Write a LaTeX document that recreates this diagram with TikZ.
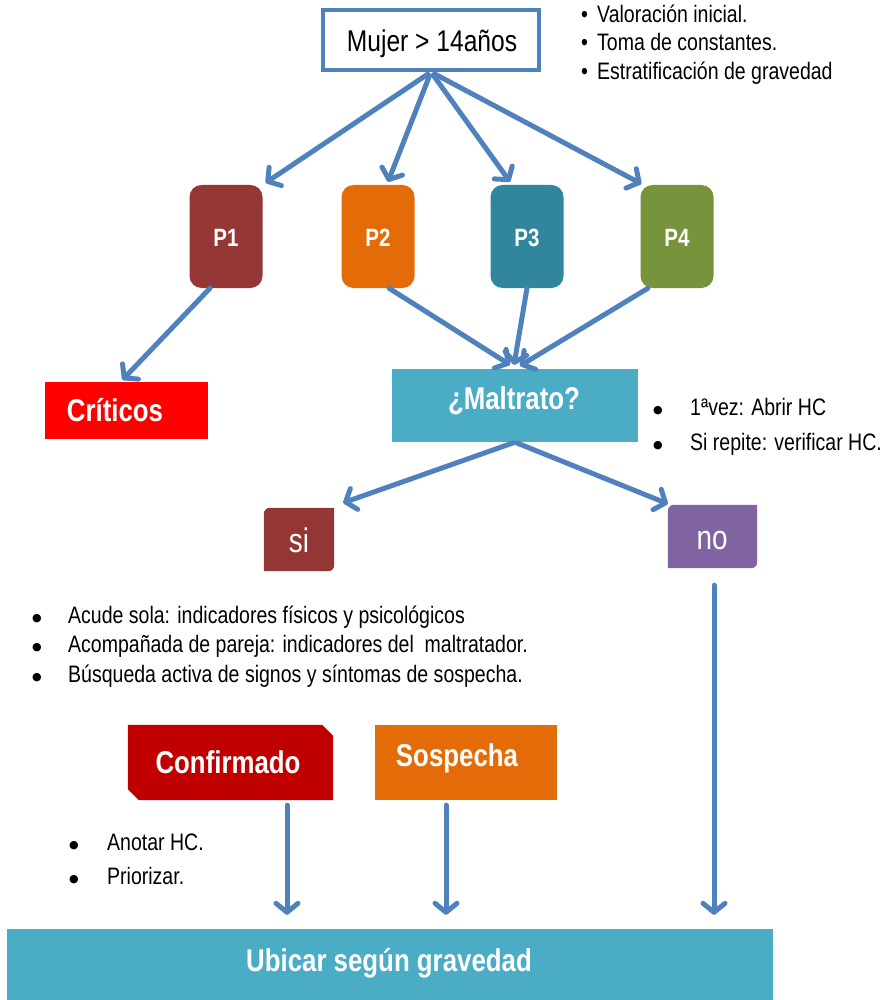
\documentclass[tikz,border=0pt]{standalone}
\usepackage{fontspec}
\setmainfont{Liberation Sans}[FakeStretch=0.82]
\newfontfamily\dejavu{DejaVu Sans}
\usetikzlibrary{arrows.meta,calc}
\definecolor{arrowblue}{HTML}{4F81BD}
\definecolor{pone}{HTML}{953735}
\definecolor{ptwo}{HTML}{E36C09}
\definecolor{pthree}{HTML}{31859C}
\definecolor{pfour}{HTML}{77933C}
\definecolor{critc}{HTML}{FF0000}
\definecolor{tealc}{HTML}{4BACC6}
\definecolor{sic}{HTML}{943634}
\definecolor{noc}{HTML}{8064A2}
\definecolor{confc}{HTML}{C00000}
\newcommand\bigbul{\raisebox{2pt}{\dejavu\fontsize{11}{11}\selectfont ●}}
\begin{document}
\begin{tikzpicture}[x=1pt,y=-1pt,
  arr/.style={draw=arrowblue, line width=5pt, line cap=round, -{Straight Barb[length=9pt,width=22pt,round]}},
  pbox/.style={rounded corners=12pt, minimum width=73pt, minimum height=103pt, inner sep=0pt},
  flat/.style={inner sep=0pt},
  wlab/.style={text=white, font=\fontsize{31.5}{36}\selectfont\bfseries, inner sep=0pt, anchor=base},
  plab/.style={text=white, font=\fontsize{25}{30}\selectfont\bfseries, inner sep=0pt, anchor=base},
  blist/.style={anchor=base west, inner sep=0pt, font=\fontsize{23.8}{28}\selectfont},
]
\useasboundingbox (0,0) rectangle (891,1000);

% top box
\node[draw=arrowblue, line width=4pt, fill=white, minimum width=216pt, minimum height=60pt, inner sep=0pt] (top) at (431,40) {};
\node[inner sep=0pt, anchor=base, font=\fontsize{30}{34}\selectfont] (toplab) at (432,52) {Mujer > 14años};
\node[blist] (tb1) at (581,23) {\makebox[16pt][l]{\textbullet}Valoración inicial.};
\node[blist] (tb2) at (581,51) {\makebox[16pt][l]{\textbullet}Toma de constantes.};
\node[blist] (tb3) at (581,80) {\makebox[16pt][l]{\textbullet}Estratificación de gravedad};

% P boxes
\node[pbox, fill=pone] (p1) at (226,236.5) {};
\node[pbox, fill=ptwo] (p2) at (378,236.5) {};
\node[pbox, fill=pthree] (p3) at (527,236.5) {};
\node[pbox, fill=pfour] (p4) at (677,236.5) {};
\node[plab] (p1l) at (226,247) {P1};
\node[plab] (p2l) at (378,247) {P2};
\node[plab] (p3l) at (527,247) {P3};
\node[plab] (p4l) at (677,247) {P4};

% Criticos and Maltrato
\node[flat, fill=critc, minimum width=163pt, minimum height=57pt] (crit) at (126.5,410.5) {};
\node[wlab] (critl) at (115,421) {Críticos};
\node[flat, fill=tealc, minimum width=246pt, minimum height=73pt] (malt) at (515,405.5) {};
\node[wlab] (maltl) at (514,409) {¿Maltrato?};
\node[blist] (mb1) at (653,415) {\makebox[37pt][l]{\bigbul}1ªvez: Abrir HC};
\node[blist] (mb2) at (653,450) {\makebox[37pt][l]{\bigbul}Si repite: verificar HC.};

% si / no
\node[flat, minimum width=70pt, minimum height=63pt] (si) at (299,539.5) {};
\fill[sic] (si.south west) -- ([yshift=-6pt]si.north west) arc[start angle=180,end angle=90,radius=6pt] -- (si.north east) -- ([yshift=6pt]si.south east) arc[start angle=0,end angle=-90,radius=6pt] -- cycle;
\node[flat, minimum width=89pt, minimum height=63pt] (no) at (712.5,536.5) {};
\fill[noc] (no.south west) -- ([yshift=-6pt]no.north west) arc[start angle=180,end angle=90,radius=6pt] -- (no.north east) -- ([yshift=6pt]no.south east) arc[start angle=0,end angle=-90,radius=6pt] -- cycle;
\node[text=white, inner sep=0pt, anchor=base, font=\fontsize{34}{40}\selectfont] (sil) at (299,552) {si};
\node[text=white, inner sep=0pt, anchor=base, font=\fontsize{34}{40}\selectfont] (nol) at (712,549) {no};

% list
\node[blist] (l1) at (32,623) {\makebox[36pt][l]{\bigbul}Acude sola: indicadores físicos y psicológicos};
\node[blist] (l2) at (32,652) {\makebox[36pt][l]{\bigbul}Acompañada de pareja: indicadores del\ \ maltratador.};
\node[blist] (l3) at (32,682) {\makebox[36pt][l]{\bigbul}Búsqueda activa de signos y síntomas de sospecha.};

% Confirmado / Sospecha
\node[flat, minimum width=205pt, minimum height=75pt] (conf) at (230.5,762.5) {};
\fill[confc] ([xshift=-11pt]conf.north east) -- ([yshift=-11pt]conf.north east) -- (conf.south east) -- ([xshift=11pt]conf.south west) -- ([yshift=11pt]conf.south west) -- (conf.north west) -- cycle;
\node[wlab] (confl) at (228,773) {Confirmado};
\node[flat, fill=ptwo, minimum width=182pt, minimum height=75pt] (sosp) at (466,762.5) {};
\node[wlab] (sospl) at (457,766) {Sospecha};
\node[blist] (a1) at (69,850) {\makebox[38pt][l]{\bigbul}Anotar HC.};
\node[blist] (a2) at (69,884) {\makebox[38pt][l]{\bigbul}Priorizar.};

% Ubicar
\node[flat, fill=tealc, minimum width=766pt, minimum height=71pt] (ubic) at (390,964.5) {};
\node[wlab] (ubicl) at (389,971) {Ubicar según gravedad};

% arrows
\draw[arr, shorten <=4pt] (top.south) -- ([xshift=3pt,yshift=2pt]p1.north east);
\draw[arr, shorten <=4pt] (top.south) -- ([xshift=10pt,yshift=3pt]p2.north);
\draw[arr, shorten <=4pt] (top.south) -- ([xshift=-17pt,yshift=3pt]p3.north);
\draw[arr, shorten <=4pt] (top.south) -- ([xshift=1pt,yshift=1pt]p4.north west);
\draw[arr] ([xshift=-16pt]p1.south) -- ([xshift=-4pt,yshift=2pt]crit.north);
\draw[arr] ([xshift=11pt]p2.south) -- ([xshift=-5pt,yshift=4pt]malt.north);
\draw[arr] (p3.south) -- ([xshift=-1pt,yshift=4pt]malt.north);
\draw[arr] ([xshift=-29pt]p4.south) -- ([xshift=5pt,yshift=3pt]malt.north);
\draw[arr, shorten <=2pt] (malt.south) -- ([xshift=9pt,yshift=5pt]si.north east);
\draw[arr, shorten <=2pt] (malt.south) -- ([yshift=1pt]no.north west);
\draw[arr, shorten <=17pt, shorten >=14pt] ([xshift=1.5pt]no.south) -- ([xshift=1.5pt]no.south |- ubic.north);
\draw[arr, shorten <=5pt, shorten >=14pt] ([xshift=56.5pt]conf.south) -- ([xshift=56.5pt]conf.south |- ubic.north);
\draw[arr, shorten <=5pt, shorten >=14pt] ([xshift=-20pt]sosp.south) -- ([xshift=-20pt]sosp.south |- ubic.north);
\end{tikzpicture}
\end{document}
